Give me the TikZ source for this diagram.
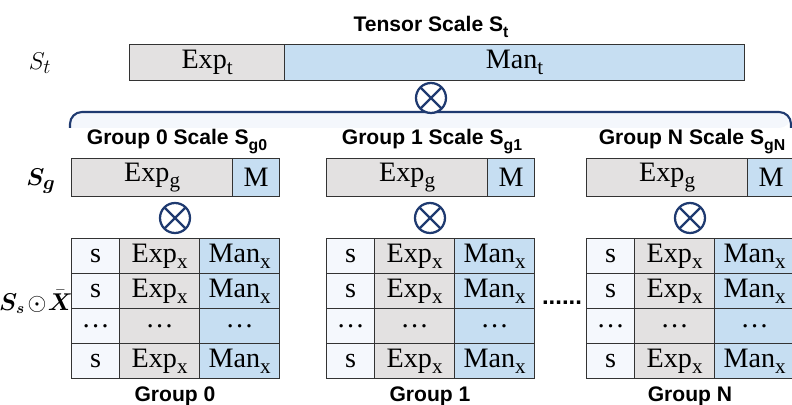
\documentclass[tikz,border=0pt]{standalone}
\usepackage{amsmath,amssymb}
\usepackage{fontspec}
\setmainfont{Liberation Serif}
\setsansfont{Liberation Sans}
\usepackage{tikz}

\definecolor{expgray}{HTML}{E3E1E1}
\definecolor{manblue}{HTML}{C6DEF2}
\definecolor{spale}{HTML}{F5F8FD}
\definecolor{navy}{HTML}{1F3A70}
\definecolor{bandfill}{HTML}{F4F7FC}
\definecolor{edge}{HTML}{333333}

\newcommand{\pxu}{0.025cm}
\newcommand{\lowsub}[1]{\raisebox{-0.5ex}{\scalebox{0.75}{#1}}}

\tikzset{
  cell/.style={draw=edge, line width=0.9pt, inner sep=0pt, anchor=north west,
    minimum height=35*\pxu, font=\fontsize{20}{22}\selectfont},
  title/.style={font=\sffamily\bfseries\fontsize{15}{18}\selectfont, anchor=base, inner sep=0pt},
  side/.style={font=\fontsize{19}{22}\selectfont, inner sep=0pt},
  otimes/.style={circle, draw=navy, fill=white, line width=1.6pt, minimum size=30*\pxu, inner sep=0pt,
    path picture={\draw[navy, line width=1.6pt]
      (path picture bounding box.north west) -- (path picture bounding box.south east)
      (path picture bounding box.north east) -- (path picture bounding box.south west);}}
}

\begin{document}
\begin{tikzpicture}[x=0.025cm, y=-0.025cm]

\clip (0,0) rectangle (792,405);

% ---------------- TENSOR SCALE ----------------

\node[title] (Ttensor) at (431,32) {Tensor Scale S\lowsub{t}};
\node[side] (St) at (40,63) {$S_t$};

\node[cell, fill=expgray, minimum width=155*\pxu, minimum height=36*\pxu] (Expt) at (129,44) {Exp\lowsub{t}};
\node[cell, fill=manblue, minimum width=460*\pxu, minimum height=36*\pxu] (Mant) at (284,44) {Man\lowsub{t}};

% ---------------- BRACKET ----------------

\coordinate (brL) at (70,128);
\coordinate (brR) at (791,128);

\fill[bandfill] (brL) [rounded corners=8.5pt] |- (431,112) -| (brR) [sharp corners] -- cycle;
\draw[navy, line width=1.5pt, rounded corners=8.5pt] (brL) |- (431,112) -| (brR);

\node[otimes] (Otop) at (431,98) {};

% ---------------- LEFT LABELS ----------------

\node[side] (Sg) at (41,181) {$\boldsymbol{S_g}$};
\node[side, font=\fontsize{16}{20}\selectfont] (SsX) at (36,302)
  {$\boldsymbol{S_s}\mkern2mu{\odot}\mkern1mu\bar{\boldsymbol{X}}$};

% ---------------- GROUPS ----------------

\foreach \g/\x in {0/71, 1/326, N/586} {

  \node[title] (T\g) at (\x+106,145) {Group \g\ Scale S\lowsub{g\g}};

  \node[cell, fill=expgray, minimum width=161*\pxu, minimum height=38*\pxu] (E\g) at (\x,158) {Exp\lowsub{g}};
  \node[cell, fill=manblue, minimum width=47*\pxu, minimum height=38*\pxu] (M\g) at (\x+161,158) {M};

  \node[otimes] (O\g) at (\x+104,218) {};

  \foreach \r/\y in {1/238, 2/273, 4/343} {
    \node[cell, fill=spale, minimum width=48*\pxu] (G\g s\r) at (\x,\y) {s};
    \node[cell, fill=expgray, minimum width=80*\pxu] (G\g e\r) at (\x+48,\y) {Exp\lowsub{x}};
    \node[cell, fill=manblue, minimum width=80*\pxu] (G\g m\r) at (\x+128,\y) {Man\lowsub{x}};
  }
  \node[cell, fill=spale, minimum width=48*\pxu] (G\g s3) at (\x,308) {\ldots};
  \node[cell, fill=expgray, minimum width=80*\pxu] (G\g e3) at (\x+48,308) {\ldots};
  \node[cell, fill=manblue, minimum width=80*\pxu] (G\g m3) at (\x+128,308) {\ldots};

  \node[title] (L\g) at (\x+104,402) {Group \g};
}

\node[title, font=\sffamily\bfseries\fontsize{17}{18}\selectfont] (dots) at (562,305) {......};

\end{tikzpicture}
\end{document}
